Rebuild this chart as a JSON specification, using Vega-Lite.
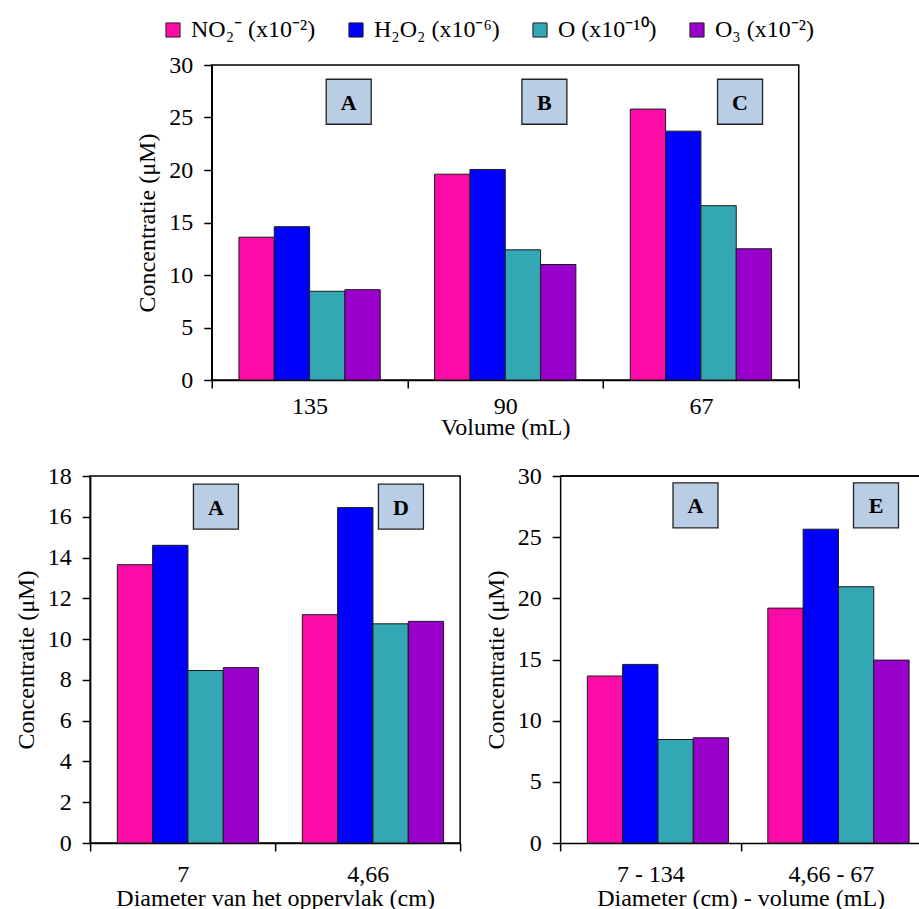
{
  "$schema": "https://vega.github.io/schema/vega-lite/v6.json",
  "background": "white",
  "padding": {"left": 13, "top": 18, "right": 0, "bottom": 0},
  "config": {
    "font": "Liberation Serif",
    "view": {"stroke": "#000", "strokeWidth": 1.5},
    "axis": {
      "grid": false,
      "domainColor": "#000",
      "domainWidth": 1.5,
      "tickColor": "#000",
      "tickWidth": 1.5,
      "tickSize": 8,
      "labelFont": "Liberation Serif",
      "labelFontSize": 24,
      "labelColor": "#000",
      "labelPadding": 11,
      "titleFont": "Liberation Serif",
      "titleFontSize": 24,
      "titleFontWeight": "normal",
      "titleColor": "#000"
    },
    "axisX": {"tickBand": "extent", "labelAngle": 0, "labelPadding": 6, "titlePadding": -3},
    "axisY": {"titlePadding": 9},
    "legend": {
      "direction": "horizontal",
      "title": null,
      "symbolType": "square",
      "symbolSize": 200,
      "symbolStrokeColor": "#222",
      "symbolStrokeWidth": 1,
      "symbolOpacity": 1,
      "labelFont": "Liberation Serif",
      "labelFontSize": 24,
      "labelColor": "#000",
      "labelOffset": 6,
      "labelLimit": 300,
      "columnPadding": 28
    }
  },
  "datasets": {
    "volume": [
      {"g": "135", "s": "NO₂⁻ (x10⁻²)", "v": 13.6},
      {"g": "135", "s": "H₂O₂ (x10⁻⁶)", "v": 14.6},
      {"g": "135", "s": "O (x10⁻¹⁰)", "v": 8.45},
      {"g": "135", "s": "O₃ (x10⁻²)", "v": 8.6},
      {"g": "90", "s": "NO₂⁻ (x10⁻²)", "v": 19.6},
      {"g": "90", "s": "H₂O₂ (x10⁻⁶)", "v": 20.05},
      {"g": "90", "s": "O (x10⁻¹⁰)", "v": 12.4},
      {"g": "90", "s": "O₃ (x10⁻²)", "v": 11.0},
      {"g": "67", "s": "NO₂⁻ (x10⁻²)", "v": 25.8},
      {"g": "67", "s": "H₂O₂ (x10⁻⁶)", "v": 23.7},
      {"g": "67", "s": "O (x10⁻¹⁰)", "v": 16.6},
      {"g": "67", "s": "O₃ (x10⁻²)", "v": 12.5}
    ],
    "volumeTags": [
      {"g": "135", "tag": "A", "v": 26.5},
      {"g": "90", "tag": "B", "v": 26.5},
      {"g": "67", "tag": "C", "v": 26.5}
    ],
    "diameter": [
      {"g": "7", "s": "NO₂⁻ (x10⁻²)", "v": 13.65},
      {"g": "7", "s": "H₂O₂ (x10⁻⁶)", "v": 14.6},
      {"g": "7", "s": "O (x10⁻¹⁰)", "v": 8.46},
      {"g": "7", "s": "O₃ (x10⁻²)", "v": 8.6},
      {"g": "4,66", "s": "NO₂⁻ (x10⁻²)", "v": 11.2},
      {"g": "4,66", "s": "H₂O₂ (x10⁻⁶)", "v": 16.45},
      {"g": "4,66", "s": "O (x10⁻¹⁰)", "v": 10.75},
      {"g": "4,66", "s": "O₃ (x10⁻²)", "v": 10.87}
    ],
    "diameterTags": [
      {"g": "7", "tag": "A", "v": 16.5},
      {"g": "4,66", "tag": "D", "v": 16.5}
    ],
    "combined": [
      {"g": "7 - 134", "s": "NO₂⁻ (x10⁻²)", "v": 13.65},
      {"g": "7 - 134", "s": "H₂O₂ (x10⁻⁶)", "v": 14.6},
      {"g": "7 - 134", "s": "O (x10⁻¹⁰)", "v": 8.46},
      {"g": "7 - 134", "s": "O₃ (x10⁻²)", "v": 8.6},
      {"g": "4,66 - 67", "s": "NO₂⁻ (x10⁻²)", "v": 19.2},
      {"g": "4,66 - 67", "s": "H₂O₂ (x10⁻⁶)", "v": 25.65},
      {"g": "4,66 - 67", "s": "O (x10⁻¹⁰)", "v": 20.95},
      {"g": "4,66 - 67", "s": "O₃ (x10⁻²)", "v": 14.95}
    ],
    "combinedTags": [
      {"g": "7 - 134", "tag": "A", "v": 27.6},
      {"g": "4,66 - 67", "tag": "E", "v": 27.6}
    ]
  },
  "spacing": 23,
  "center": true,
  "vconcat": [
    {
      "width": 587,
      "height": 315,
      "layer": [
        {
          "data": {"name": "volume"},
          "mark": {"type": "bar", "stroke": "#1a1a1a", "strokeWidth": 1},
          "encoding": {
            "x": {"field": "g", "type": "nominal", "sort": ["135", "90", "67"],
                  "scale": {"paddingInner": 0, "paddingOuter": 0},
                  "axis": {"title": "Volume (mL)"}},
            "xOffset": {"field": "s", "type": "nominal",
                        "sort": ["NO₂⁻ (x10⁻²)", "H₂O₂ (x10⁻⁶)", "O (x10⁻¹⁰)", "O₃ (x10⁻²)"],
                        "scale": {"paddingInner": 0, "paddingOuter": 0.77}},
            "y": {"field": "v", "type": "quantitative", "scale": {"domain": [0, 30]},
                  "axis": {"title": "Concentratie (μM)", "values": [0, 5, 10, 15, 20, 25, 30]}},
            "color": {"field": "s", "type": "nominal",
                      "scale": {"domain": ["NO₂⁻ (x10⁻²)", "H₂O₂ (x10⁻⁶)", "O (x10⁻¹⁰)", "O₃ (x10⁻²)"],
                                "range": ["#fc0ca6", "#0000ff", "#33a8b4", "#9900cc"]},
                      "legend": {"orient": "none", "legendX": 71, "legendY": -47}}
          }
        },
        {
          "data": {"name": "volumeTags"},
          "mark": {"type": "square", "size": 2025, "fill": "#b9cde5", "stroke": "#222", "strokeWidth": 1.3, "opacity": 1},
          "encoding": {
            "x": {"field": "g", "type": "nominal", "sort": ["135", "90", "67"], "bandPosition": 0.7},
            "y": {"field": "v", "type": "quantitative"}
          }
        },
        {
          "data": {"name": "volumeTags"},
          "mark": {"type": "text", "fontWeight": "bold", "fontSize": 22, "font": "Liberation Serif", "color": "#000", "baseline": "middle", "align": "center", "dy": 1},
          "encoding": {
            "x": {"field": "g", "type": "nominal", "sort": ["135", "90", "67"], "bandPosition": 0.7},
            "y": {"field": "v", "type": "quantitative"},
            "text": {"field": "tag"}
          }
        }
      ]
    },
    {
      "spacing": 22,
      "hconcat": [
        {
          "width": 370,
          "height": 367,
          "layer": [
            {
              "data": {"name": "diameter"},
              "mark": {"type": "bar", "stroke": "#1a1a1a", "strokeWidth": 1},
              "encoding": {
                "x": {"field": "g", "type": "nominal", "sort": ["7", "4,66"],
                      "scale": {"paddingInner": 0, "paddingOuter": 0},
                      "axis": {"title": "Diameter van het oppervlak (cm)", "labelPadding": 11, "titlePadding": 0}},
                "xOffset": {"field": "s", "type": "nominal",
                            "sort": ["NO₂⁻ (x10⁻²)", "H₂O₂ (x10⁻⁶)", "O (x10⁻¹⁰)", "O₃ (x10⁻²)"],
                            "scale": {"paddingInner": 0, "paddingOuter": 0.75}},
                "y": {"field": "v", "type": "quantitative", "scale": {"domain": [0, 18]},
                      "axis": {"title": "Concentratie (μM)", "values": [0, 2, 4, 6, 8, 10, 12, 14, 16, 18]}},
                "color": {"field": "s", "type": "nominal"}
              }
            },
            {
              "data": {"name": "diameterTags"},
              "mark": {"type": "square", "size": 2025, "fill": "#b9cde5", "stroke": "#222", "strokeWidth": 1.3, "opacity": 1},
              "encoding": {
                "x": {"field": "g", "type": "nominal", "sort": ["7", "4,66"], "bandPosition": 0.68},
                "y": {"field": "v", "type": "quantitative"}
              }
            },
            {
              "data": {"name": "diameterTags"},
              "mark": {"type": "text", "fontWeight": "bold", "fontSize": 22, "font": "Liberation Serif", "color": "#000", "baseline": "middle", "align": "center", "dy": 1},
              "encoding": {
                "x": {"field": "g", "type": "nominal", "sort": ["7", "4,66"], "bandPosition": 0.68},
                "y": {"field": "v", "type": "quantitative"},
                "text": {"field": "tag"}
              }
            }
          ]
        },
        {
          "width": 361,
          "height": 367,
          "view": {"stroke": null},
          "layer": [
            {
              "data": {"name": "combined"},
              "mark": {"type": "bar", "stroke": "#1a1a1a", "strokeWidth": 1},
              "encoding": {
                "x": {"field": "g", "type": "nominal", "sort": ["7 - 134", "4,66 - 67"],
                      "scale": {"paddingInner": 0, "paddingOuter": 0},
                      "axis": {"title": "Diameter (cm) - volume (mL)", "labelPadding": 11, "titlePadding": 0}},
                "xOffset": {"field": "s", "type": "nominal",
                            "sort": ["NO₂⁻ (x10⁻²)", "H₂O₂ (x10⁻⁶)", "O (x10⁻¹⁰)", "O₃ (x10⁻²)"],
                            "scale": {"paddingInner": 0, "paddingOuter": 0.75}},
                "y": {"field": "v", "type": "quantitative", "scale": {"domain": [0, 30]},
                      "axis": {"title": "Concentratie (μM)", "values": [0, 5, 10, 15, 20, 25, 30]}},
                "color": {"field": "s", "type": "nominal"}
              }
            },
            {
              "data": {"name": "combinedTags"},
              "mark": {"type": "rule", "color": "#000", "strokeWidth": 1.5},
              "encoding": {"y": {"datum": 30}}
            },
            {
              "data": {"name": "combinedTags"},
              "mark": {"type": "square", "size": 2025, "fill": "#b9cde5", "stroke": "#222", "strokeWidth": 1.3, "opacity": 1},
              "encoding": {
                "x": {"field": "g", "type": "nominal", "sort": ["7 - 134", "4,66 - 67"], "bandPosition": 0.75},
                "y": {"field": "v", "type": "quantitative"}
              }
            },
            {
              "data": {"name": "combinedTags"},
              "mark": {"type": "text", "fontWeight": "bold", "fontSize": 22, "font": "Liberation Serif", "color": "#000", "baseline": "middle", "align": "center", "dy": 1},
              "encoding": {
                "x": {"field": "g", "type": "nominal", "sort": ["7 - 134", "4,66 - 67"], "bandPosition": 0.75},
                "y": {"field": "v", "type": "quantitative"},
                "text": {"field": "tag"}
              }
            }
          ]
        }
      ]
    }
  ]
}
